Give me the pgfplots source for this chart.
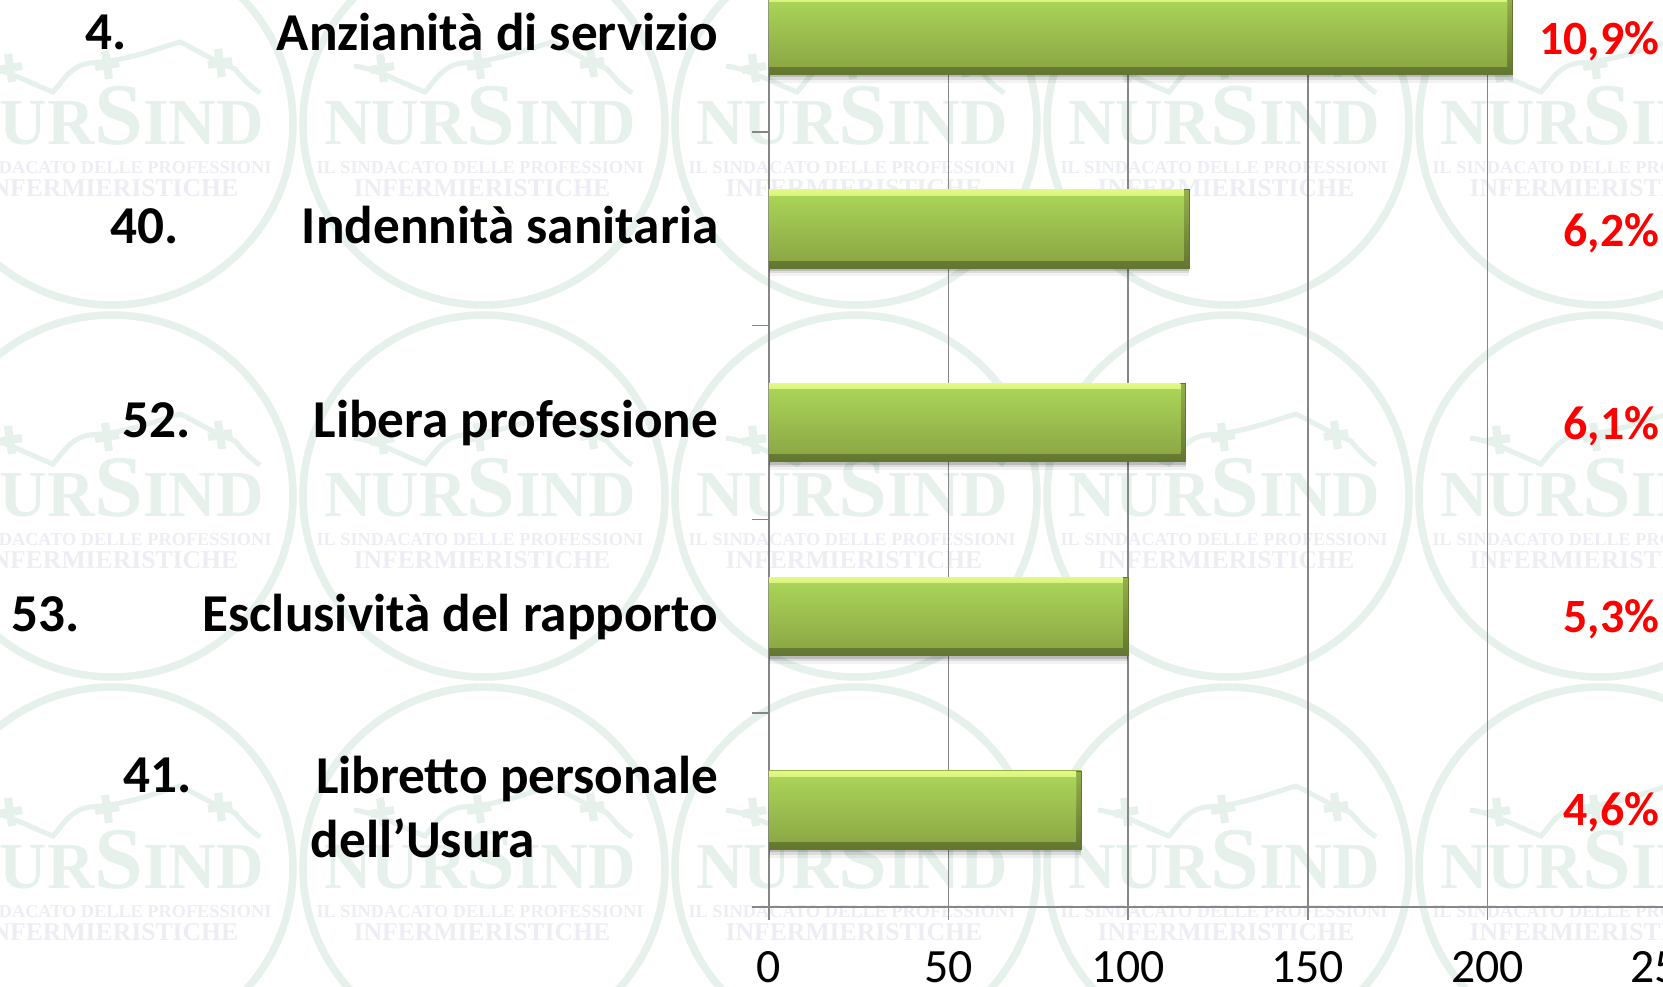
\documentclass[border=0pt]{standalone}
\usepackage{fontspec}
\setmainfont{Carlito}
\newfontfamily\wm{Liberation Serif}
\usepackage{pgfplots}
\pgfplotsset{compat=1.18}
\definecolor{axgray}{HTML}{868686}
\definecolor{wmg}{HTML}{E6F1EB}
\definecolor{wmt}{HTML}{EDEEF5}
\definecolor{bdarkA}{HTML}{94B04A}
\definecolor{bdarkB}{HTML}{62762F}
\definecolor{blight}{HTML}{E2F985}
\definecolor{btop}{HTML}{A9D358}
\definecolor{bbot}{HTML}{8DA845}
\newcommand{\tile}[2]{%
\begin{scope}[shift={(#1,#2)}]
\draw[wmg,line width=0.75mm] (2,3) circle (181);
\draw[wmg,line width=0.5mm] (-128,-55) .. controls (-105,-52) and (-85,-40) .. (-57,-29)
  .. controls (-47,-40) and (-40,-55) .. (-20,-58)
  .. controls (15,-60) and (40,-70) .. (70,-79)
  .. controls (85,-72) and (100,-62) .. (125,-52) .. controls (135,-40) and (140,-35) .. (150,-28);
\foreach \cx/\cy in {-100/-53,-3/-56,110/-58}{
 \draw[wmg,line width=0.8mm] (\cx-12,\cy+2)--(\cx+12,\cy-2) (\cx-2,\cy-14)--(\cx+2,\cy+14);}
\node[wmg,inner sep=0,anchor=base,font=\wm\bfseries\fontsize{18.7pt}{20pt}\selectfont] at (-2,24) {NUR{\fontsize{25pt}{26pt}\selectfont S}IND};
\node[wmt,inner sep=0,anchor=base,font=\wm\bfseries\fontsize{5.2pt}{6pt}\selectfont] at (-2,53) {IL SINDACATO DELLE PROFESSIONI};
\node[wmt,inner sep=0,anchor=base,font=\wm\bfseries\fontsize{7.3pt}{8pt}\selectfont] at (0,76) {INFERMIERISTICHE};
\end{scope}}
% one bar, drawn from its plain value: layers shadow, rim, light edge, face
\newcommand{\onebar}[3]{%
\addplot[xbar,bar width=7.85mm,bar shift=-0.85mm,fill=black,draw=none,opacity=0.05,forget plot] coordinates {(#1,#3)};
\addplot[xbar,bar width=7.85mm,bar shift=-0.55mm,fill=black,draw=none,opacity=0.09,forget plot] coordinates {(#1,#3)};
\addplot[xbar,bar width=7.85mm,bar shift=-0.3mm,fill=black,draw=none,opacity=0.15,forget plot] coordinates {(#1,#3)};
\addplot[xbar,bar width=7.85mm,bar shift=0pt,top color=bdarkA,bottom color=bdarkB,draw=bdarkB,line width=0.05mm,forget plot] coordinates {(#1,#3)};
\addplot[xbar,bar width=3.5mm,bar shift=2.15mm,top color=blight,bottom color=btop,draw=none,forget plot] coordinates {(#2,#3)};
\addplot[xbar,bar width=6.4mm,bar shift=0.05mm,top color=btop,bottom color=bbot,draw=none,forget plot] coordinates {(#2,#3)};
}
\begin{document}
\begin{tikzpicture}[x=0.1mm,y=-0.1mm]
\path[use as bounding box] (0,0) rectangle (1663,987);
\clip (0,0) rectangle (1663,987);
\fill[white] (0,0) rectangle (1663,987);
\foreach \a in {110,482,854,1226,1598}{\foreach \b in {121,493,865}{\tile{\a}{\b}}}
\begin{axis}[
  at={(76.9mm,-90.7mm)},anchor=south west,
  scale only axis,width=89.8mm,height=96.9mm,
  xmin=0,xmax=250,ymin=-0.5,ymax=4.5,
  axis x line=bottom,axis y line=left,
  axis line style={-,draw=axgray,line width=0.15mm},
  xtick={0,50,100,150,200,250},
  ytick={0,1,2,3,4},
  minor ytick={-0.5,0.5,1.5,2.5,3.5,4.5},
  yticklabels={\raisebox{3.2mm}{Libretto personale},Esclusività del rapporto,Libera professione,Indennità sanitaria,Anzianità di servizio},
  xmajorgrids,
  grid style={draw=axgray,line width=0.15mm},
  tick align=outside,
  major tick length=1.3mm,minor tick length=1.7mm,
  x tick style={draw=axgray,line width=0.15mm},
  y tick style={draw=none},
  minor y tick style={draw=axgray,line width=0.15mm},
  /pgf/number format/assume math mode=true,
  xticklabel style={font=\fontsize{13.6pt}{14pt}\selectfont,inner sep=0pt,yshift=-3.05mm},
  yticklabel style={font=\bfseries\fontsize{15.15pt}{18pt}\selectfont,anchor=base east,inner sep=0pt,xshift=-3.7mm,yshift=-1.52mm},
  xbar,
  clip=false,
]
\onebar{207}{205.5}{4}
\onebar{117}{115.5}{3}
\onebar{116}{114.5}{2}
\onebar{100}{98.5}{1}
\onebar{87}{85.5}{0}
\end{axis}
\begin{scope}[every node/.style={inner sep=0,anchor=base west,font=\bfseries\fontsize{15.15pt}{16pt}\selectfont}]
\node at (85,50) {4.};
\node at (110,244) {40.};
\node at (122,438) {52.};
\node at (11,632) {53.};
\node at (123,793) {41.};
\node at (310,858) {dell’Usura};
\end{scope}
\begin{scope}[every node/.style={inner sep=0,anchor=east,text=red,font=\bfseries\fontsize{13.6pt}{14pt}\selectfont}]
\node at (1660,41) {10,9\%};
\node at (1660,233) {6,2\%};
\node at (1660,426) {6,1\%};
\node at (1660,619) {5,3\%};
\node at (1660,812) {4,6\%};
\end{scope}
\end{tikzpicture}
\end{document}
